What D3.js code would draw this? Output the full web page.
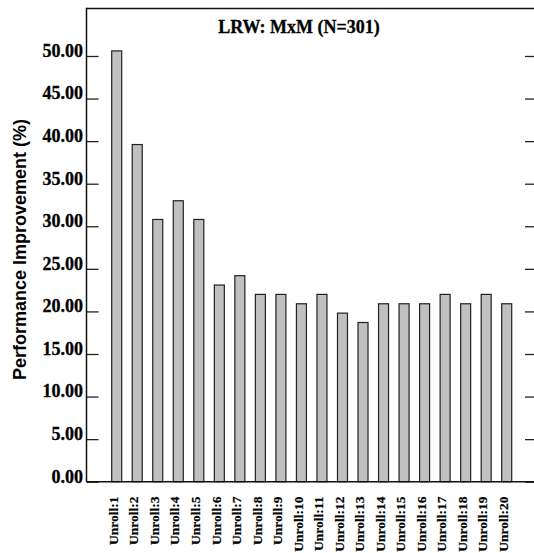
<!DOCTYPE html>
<html>
<head>
<meta charset="utf-8">
<script src="https://cdn.jsdelivr.net/npm/d3@7"></script>
<style>
  html, body { margin: 0; padding: 0; background: #fff; }
  svg { display: block; }
</style>
</head>
<body>
<svg id="chart" width="534" height="553"></svg>
<script>
// Unroll factors and their measured performance improvement (%)
const categories = ["Unroll:1","Unroll:2","Unroll:3","Unroll:4","Unroll:5","Unroll:6","Unroll:7",
  "Unroll:8","Unroll:9","Unroll:10","Unroll:11","Unroll:12","Unroll:13","Unroll:14","Unroll:15",
  "Unroll:16","Unroll:17","Unroll:18","Unroll:19","Unroll:20"];
const improvement = [50.6, 39.6, 30.8, 33.0, 30.8, 23.1, 24.2, 22.0, 22.0, 20.9, 22.0, 19.8, 18.7,
  20.9, 20.9, 20.9, 22.0, 20.9, 22.0, 20.9];
const yTicks = [0, 5, 10, 15, 20, 25, 30, 35, 40, 45, 50];
const chartTitle = "LRW: MxM (N=301)";
const yTitle = "Performance Improvement (%)";

const svg = d3.select("#chart");
const plotLeft = 86.5, plotRight = 537, plotTop = 8.5, plotBottom = 481.7;
const serif = "'Liberation Serif', 'Times New Roman', serif";

const x = d3.scalePoint().domain(categories).range([116.7, 506.7]);
const y = d3.scaleLinear().domain([0, 50]).range([plotBottom, 56]);
const barW = 10;

// frame: top edge
svg.append("line").attr("x1", plotLeft).attr("x2", plotRight).attr("y1", plotTop).attr("y2", plotTop)
  .attr("stroke", "#111").attr("stroke-width", 1.5);

// left axis ticks (pointing inward)
const yAxisL = d3.axisRight(y).tickValues(yTicks).tickSize(12).tickFormat("");
const gL = svg.append("g").attr("transform", `translate(${plotLeft},0)`).call(yAxisL);
gL.select(".domain").remove();
gL.selectAll(".tick line").attr("stroke", "#222").attr("stroke-width", 1.3);
svg.append("line").attr("x1", plotLeft).attr("x2", plotLeft).attr("y1", plotTop - 0.75).attr("y2", plotBottom)
  .attr("stroke", "#111").attr("stroke-width", 1.5);

// left tick labels
svg.append("g").selectAll("text").data(yTicks).join("text")
  .attr("x", plotLeft - 3.5).attr("y", d => y(d)).attr("dy", "0.05em")
  .attr("text-anchor", "end")
  .style("font-family", serif)
  .style("font-weight", "bold").style("font-size", "18px")
  .attr("stroke", "#000").attr("stroke-width", 0.3)
  .text(d => d.toFixed(2));

// right axis ticks
const yAxisR = d3.axisLeft(y).tickValues(yTicks).tickSize(12).tickFormat("");
const gR = svg.append("g").attr("transform", `translate(${plotRight},0)`).call(yAxisR);
gR.select(".domain").remove();
gR.selectAll(".tick line").attr("stroke", "#222").attr("stroke-width", 1.3);

// bars
svg.append("g").selectAll("rect").data(improvement).join("rect")
  .attr("x", (d, i) => x(categories[i]) - barW / 2)
  .attr("y", d => y(d))
  .attr("width", barW)
  .attr("height", d => plotBottom - y(d))
  .attr("fill", "#c0c0c0")
  .attr("stroke", "#222")
  .attr("stroke-width", 1.2);

// baseline
svg.append("line").attr("x1", plotLeft).attr("x2", plotRight).attr("y1", plotBottom).attr("y2", plotBottom)
  .attr("stroke", "#111").attr("stroke-width", 1.5);

// category labels, rotated
svg.append("g").selectAll("text").data(categories).join("text")
  .attr("transform", d => `translate(${x(d) + 1.2},${496.5})rotate(-90)`)
  .attr("text-anchor", "end")
  .style("font-family", serif)
  .style("font-weight", "bold").style("font-size", "13.5px")
  .attr("stroke", "#000").attr("stroke-width", 0.2)
  .text(d => d);

// chart title
svg.append("text").attr("x", 299).attr("y", 32.5).attr("text-anchor", "middle")
  .style("font-family", serif)
  .style("font-weight", "bold").style("font-size", "18px")
  .attr("stroke", "#000").attr("stroke-width", 0.3)
  .text(chartTitle);

// y axis title
svg.append("text").attr("transform", "translate(25.5,249.5)rotate(-90)")
  .attr("text-anchor", "middle")
  .style("font-family", "'Liberation Sans', Arial, sans-serif")
  .style("font-weight", "bold").style("font-size", "18px")
  .text(yTitle);
</script>
</body>
</html>
